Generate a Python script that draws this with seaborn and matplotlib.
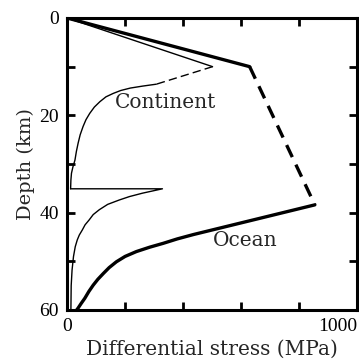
import matplotlib
matplotlib.use("Agg")
import matplotlib.pyplot as plt
import seaborn as sns
import pandas as pd

# Ocean lithosphere strength envelope (stress in MPa, depth in km)
ocean_brittle_stress = [0, 630]
ocean_brittle_depth = [0, 10]
ocean_transition_stress = [630, 855]
ocean_transition_depth = [10, 38.4]
ocean_ductile_stress = [855, 436, 380, 332, 285, 239, 200, 170, 145, 125, 106, 90, 75, 61, 48, 38, 33]
ocean_ductile_depth = [38.4, 44.5, 45.4, 46.3, 47.1, 48.0, 49.0, 50.1, 51.3, 52.5, 53.7, 54.9, 56.2, 57.6, 58.7, 59.6, 60]

# Continental lithosphere strength envelope
cont_brittle_stress = [0, 502]
cont_brittle_depth = [0, 10]
cont_transition_stress = [502, 308]
cont_transition_depth = [10, 13.6]
cont_crust_stress = [308, 260, 218, 185, 159, 134, 113, 94, 78, 65, 55, 45, 38, 32, 27, 20, 15, 13, 12]
cont_crust_depth = [13.6, 14.0, 14.4, 14.9, 15.5, 16.2, 17.2, 18.3, 19.6, 20.9, 22.3, 24.0, 25.7, 27.4, 29.2, 30.6, 31.9, 33.3, 35.1]
cont_mantle_stress = [12, 329, 260, 215, 180, 140, 111, 90, 76, 62, 52, 42, 35, 28, 22, 17, 14, 13]
cont_mantle_depth = [35.1, 35.1, 36, 36.7, 37.4, 38.3, 39.4, 40.4, 41.5, 42.5, 43.6, 44.6, 45.6, 47, 49, 51.8, 55, 60]

x_ticks = [0, 200, 400, 600, 800, 1000]
x_tick_labels = ["0", "", "", "", "", "1000"]
y_ticks = [0, 10, 20, 30, 40, 50, 60]
y_tick_labels = ["0", "", "20", "", "40", "", "60"]

sns.set_theme(style="ticks")
plt.rcParams["font.family"] = ["DejaVu Serif"]

fig = plt.figure(figsize=(3.59, 3.6), dpi=100)
ax = fig.add_axes([0.187, 0.139, 0.807, 0.811])

def seg(stress, depth, lw, ls):
    df = pd.DataFrame({"stress": stress, "depth": depth})
    sns.lineplot(data=df, x="stress", y="depth", sort=False, estimator=None,
                 color="black", lw=lw, ls=ls, ax=ax)

thick, thin = 2.4, 1.0
seg(ocean_brittle_stress, ocean_brittle_depth, thick, "-")
seg(ocean_transition_stress, ocean_transition_depth, thick, (0, (4, 2.5)))
seg(ocean_ductile_stress, ocean_ductile_depth, thick, "-")
seg(cont_brittle_stress, cont_brittle_depth, thin, "-")
seg(cont_transition_stress, cont_transition_depth, thin, (0, (6, 3)))
seg(cont_crust_stress, cont_crust_depth, thin, "-")
seg(cont_mantle_stress, cont_mantle_depth, thin, "-")

ax.text(339, 17.3, "Continent", ha="center", va="center", fontsize=14.5)
ax.text(616, 45.8, "Ocean", ha="center", va="center", fontsize=14.5)

ax.set_xlim(0, 1000)
ax.set_ylim(60, 0)
ax.set_xticks(x_ticks, x_tick_labels)
ax.set_yticks(y_ticks, y_tick_labels)
for lab in ax.get_xticklabels() + ax.get_yticklabels():
    lab.set_fontfamily(["Liberation Serif"])
ax.xaxis.get_ticklabels()[-1].set_horizontalalignment("right")
ax.tick_params(direction="in", length=6, width=2, top=True, right=True,
               labelsize=14, colors="black", pad=6)
for s in ax.spines.values():
    s.set_linewidth(2.2)
    s.set_color("black")
ax.set_xlabel("Differential stress (MPa)", fontsize=14.5, labelpad=3)
ax.set_ylabel("Depth (km)", fontsize=14, labelpad=3)

fig.savefig("out.png", dpi=100)
